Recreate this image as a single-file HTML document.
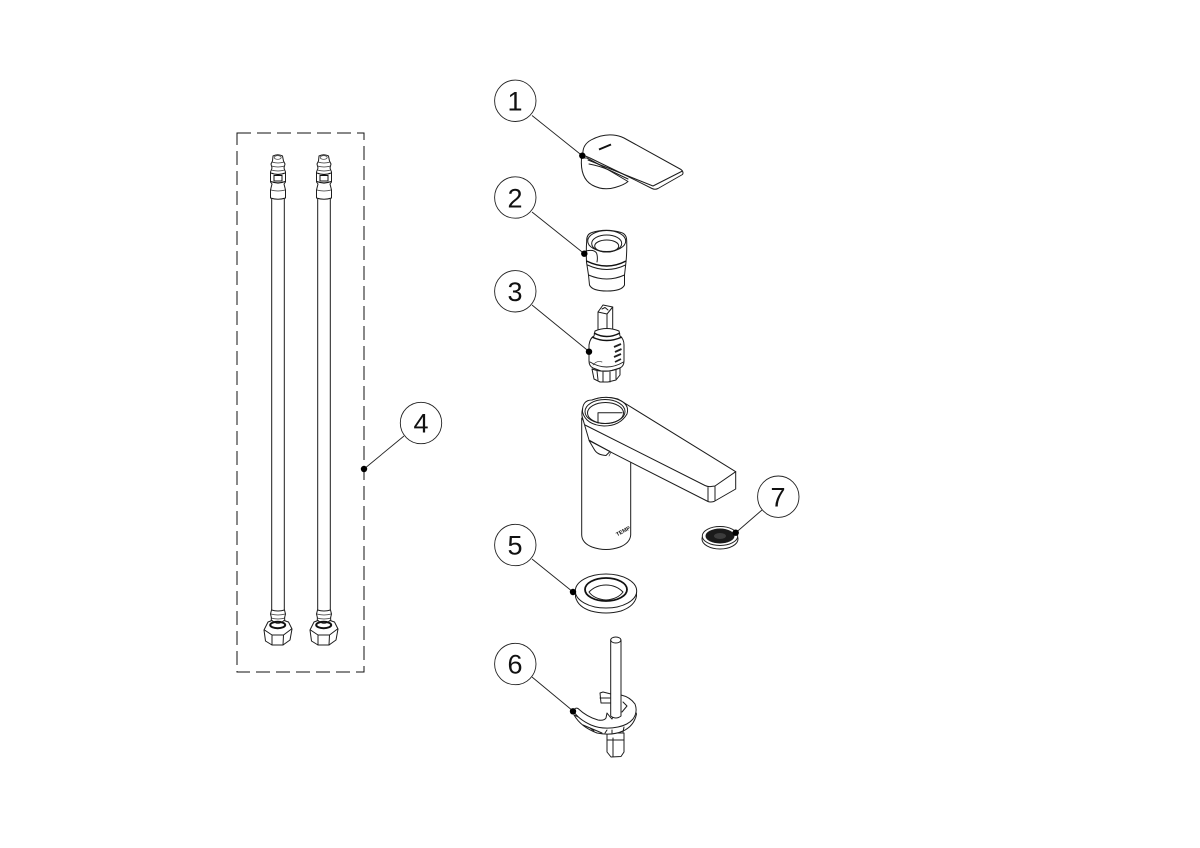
<!DOCTYPE html>
<html><head><meta charset="utf-8"><style>
html,body{margin:0;padding:0;background:#fff;width:1200px;height:848px;overflow:hidden}
svg{display:block}
text{font-family:"Liberation Sans",sans-serif;fill:#111}
.n{font-size:27px;text-anchor:middle}
.l{fill:none;stroke:#1c1c1c;stroke-width:1;stroke-linejoin:round;stroke-linecap:round}
.t{fill:none;stroke:#333;stroke-width:.7;stroke-linecap:round}
.w{fill:#fff;stroke:#1c1c1c;stroke-width:1;stroke-linejoin:round}
.c{fill:#fff;stroke:#222;stroke-width:.9}
.k{stroke:#222;stroke-width:.9}
</style></head><body>
<svg width="1200" height="848" viewBox="0 0 1200 848" xmlns="http://www.w3.org/2000/svg">
<defs>
<g id="hose">
<path class="w" d="M271.700 198V612H284.300V198Z"/>
<path class="w" d="M273 156Q277.700 153.500 282.500 156L283.500 161L285 164L284 168L285.500 172V182L284 184L285.500 190V198Q278 200.500 270.500 198V190L272 184L270.500 182V172L272 168L271 164L272.500 161Z"/>
<ellipse class="t" cx="277.700" cy="157.500" rx="3.500" ry="1.800"/>
<path class="t" d="M272 162Q278 164 284 162M271.500 166Q278 168 284.500 166M271.500 170Q278 172 284.500 170"/>
<path d="M271 173Q278 176 285 173M271 181.500Q278 184.500 285 181.500" fill="none" stroke="#111" stroke-width="1.200"/>
<path d="M274 175.500H282V181H274Z" fill="none" stroke="#111" stroke-width="1"/>
<path class="t" d="M271 190Q278 192 285 190"/>
<path class="w" d="M271.500 610Q278 612 284.500 610L285.500 614L284.500 618L285 622H271L271.500 618L270.500 614Z"/>
<path class="t" d="M271 614Q278 616 285 614M271 618Q278 620 285 618"/>
<path class="w" d="M268 622L272 620.500Q278 626 284 620.500L288.500 622L292 629L290 640L283 645L272 645L265.500 641L264 630Z"/>
<ellipse cx="277.700" cy="625" rx="7.500" ry="3.200" fill="none" stroke="#111" stroke-width="2"/>
<path class="l" d="M264.500 630L272 635H283.500L291.500 629M272 635L272 645M283.500 635L283 645"/>
</g>
</defs>

<!-- dashed box -->
<rect x="237" y="133" width="127" height="539" fill="none" stroke="#111" stroke-width="1" stroke-dasharray="14 6"/>
<use href="#hose"/>
<use href="#hose" x="46"/>

<!-- item 1: handle -->
<path class="w" d="M581.500 158Q580 178 592 185Q603 191 615 187.500Q624 185 628 181.500L600 165L587 158Z"/>
<path class="w" d="M583 155Q582 145 591 140Q602 134 613 135Q619 135.500 624 138L681 169.500Q684 172 682.500 174.500L658 188.500Q655 190 652 188.500L625 175L590 158Z"/>
<path class="l" d="M588 160L653 186L682.500 171"/>
<path class="l" d="M589 164Q600 166 609 170L628 179"/>
<path d="M599 149.500L611 144.500" stroke="#111" stroke-width="2" fill="none"/>

<!-- item 2: adapter -->
<path class="w" d="M586.700 241Q586.500 234 592 232.500Q606 228 621 232.500Q626.700 234 626.700 241Q627 252 626 262L624.500 275L624.500 285Q622 291 607 291Q592 291 589.500 285L588.500 275L586.500 262Q586 250 586.700 241Z"/>
<ellipse class="l" cx="606.700" cy="241" rx="19" ry="10.500"/>
<ellipse class="l" cx="606.700" cy="243.500" rx="15" ry="8.500"/>
<ellipse class="l" cx="606.700" cy="246" rx="12" ry="6"/>
<path d="M586.500 261Q607 271 626 261" fill="none" stroke="#111" stroke-width="1.500"/>
<path class="l" d="M587.500 265Q607 274 625.500 265M588.500 275Q607 283 624.500 275"/>
<path class="l" d="M586 251Q594 249 596.500 253Q598 257 597 262"/>

<!-- item 3: cartridge -->
<path class="w" d="M598 312L603 305L612.700 307V336H598Z"/>
<path class="l" d="M598 312L607 314L612.700 307M607 314V336M602 309L605 307.500L608 310"/>
<path class="w" d="M589 345Q590 338 594 336L595 331Q606.500 326 619 331L620 336Q624 339 624 345V361Q624 366 620 368L610 371H601L593 368Q589 366 589 361Z"/>
<path d="M594 333Q606.500 340 620 333M592 337Q606.500 344 622 337" stroke="#111" stroke-width="1.500" fill="none"/>
<path class="l" d="M590 362Q606.500 372 623.500 362"/>
<path class="w" d="M592 369L594 379L600 382L608 382L616 380L620 375V368Q606 374 592 369Z"/>
<path class="l" d="M597 371L598 380M603 372L603 382M610 372L610 382M616 370L616 379"/>
<path d="M614 347L621 344M615 352L621.500 349M614 357L621 354M615 362L621 359" stroke="#222" stroke-width="1.800" fill="none"/>
<path class="t" d="M593 365Q597 360 602 362"/>

<!-- faucet -->
<path class="w" d="M581.700 418V535Q582 543 592 547Q606 552 620 547Q630 543 630.700 535V461L600 445Z"/>
<path class="w" d="M582 416Q581 405 590 401Q603 395 618 399L735.700 471.700V489L714 501.500Q710 502.500 708 501.500L610 451.700L589 440Z"/>
<path class="l" d="M585 425L705 485.500Q708 487 711 486.500L715 486L735.700 471.700"/>
<path class="l" d="M708 487.500V501.500M715 486.500V500.500"/>
<path class="w" d="M582.500 412Q582 400 592 400Q605 395 618 399.500Q630 404 627 414Q620 426 604 426Q586 425 582.500 412Z"/>
<ellipse class="l" cx="605" cy="411.500" rx="20" ry="12"/>
<ellipse class="l" cx="605.500" cy="413" rx="18" ry="10.500"/>
<path class="l" d="M598 412.700V423M598 412.700H622"/>
<path class="l" d="M589 440.500L610 451.500L606 455.500Q597 455 594 449Z"/>
<path class="t" d="M611 452L609 456"/>
<text x="623" y="533" font-size="5.500" font-weight="700" text-anchor="middle" transform="rotate(-28 623 531)">TEMP</text>

<!-- item 7: aerator -->
<ellipse class="w" cx="720" cy="539" rx="18" ry="10"/>
<ellipse cx="720" cy="536" rx="17.700" ry="9.500" fill="#fff" stroke="#222" stroke-width="1"/>
<ellipse cx="720" cy="536" rx="14.500" ry="7.500" fill="#1a1a1a"/>
<ellipse cx="720" cy="536" rx="6" ry="3" fill="#3c3c3c"/>

<!-- item 5: ring -->
<path class="w" d="M575.500 592V597Q578 607 591 611Q606 615 621 611Q635 606 636.500 596V590H575.500Z"/>
<ellipse class="w" cx="606" cy="591" rx="30.700" ry="17"/>
<ellipse cx="606" cy="589.500" rx="21" ry="11.500" fill="#fff" stroke="#111" stroke-width="1.800"/>
<path class="l" d="M589 592Q594 599 606 600Q618 599 623 592M589 592Q596 585 606 585Q616 585 623 592"/>

<!-- item 6: bracket -->
<path class="w" d="M607 733H624V752L621 756.500L611 757L607 752Z"/>
<path class="l" d="M613 738V756.500M607 740H624"/>
<path class="w" d="M600 693L603 692L611 694V703H601Z"/>
<path class="l" d="M600 698H610"/>
<path class="w" d="M574 715Q581 727 597 733Q612 736 623 731Q634 726 636.500 714L634 708L622 720Q605 728 590 722Z"/>
<path class="l" d="M583 725L602 733M605 733L607 730M624 727L623 732M590 728L594 731M612 733V730"/>
<path class="w" d="M573.500 711Q575 707 578 708.500Q587 717 598 720Q604 721 606 718L607 713Q610 717 612 719L621 695Q630 697 635 704Q638 712 633 719Q628 725 618 727Q603 730 591 725Q578 719 573.500 711Z"/>
<path class="l" d="M623 702L627 706L622 712"/>
<path class="w" d="M610.700 640V716Q616 720 621 716V640Z"/>
<ellipse class="w" cx="615.800" cy="640" rx="5.100" ry="3"/>

<!-- callouts -->
<g class="k">
<line x1="532" y1="115.500" x2="582" y2="155.500"/>
<line x1="532" y1="212" x2="584" y2="253.500"/>
<line x1="532" y1="305" x2="589" y2="351.500"/>
<line x1="404" y1="436" x2="364" y2="469"/>
<line x1="532" y1="559" x2="573" y2="592"/>
<line x1="532" y1="677" x2="573" y2="711"/>
<line x1="762" y1="510" x2="736" y2="532.500"/>
</g>
<g fill="#000">
<circle cx="582.300" cy="155.700" r="3.200"/>
<circle cx="584.300" cy="253.700" r="3.200"/>
<circle cx="589" cy="351.700" r="3.200"/>
<circle cx="364" cy="469" r="3.200"/>
<circle cx="573" cy="592" r="3.200"/>
<circle cx="573" cy="711.300" r="3.200"/>
<circle cx="735.700" cy="532.700" r="3.200"/>
</g>
<circle class="c" cx="515.300" cy="100.800" r="20.700"/>
<circle class="c" cx="515.300" cy="197.500" r="20.700"/>
<circle class="c" cx="515.300" cy="291.300" r="20.700"/>
<circle class="c" cx="421" cy="423" r="20.700"/>
<circle class="c" cx="515.300" cy="545" r="20.700"/>
<circle class="c" cx="515.300" cy="664" r="20.700"/>
<circle class="c" cx="778.300" cy="496.700" r="20.700"/>
<text class="n" x="515" y="110.500">1</text>
<text class="n" x="515" y="207.500">2</text>
<text class="n" x="515" y="301">3</text>
<text class="n" x="421" y="432.500">4</text>
<text class="n" x="515" y="554.500">5</text>
<text class="n" x="515" y="673.500">6</text>
<text class="n" x="778" y="506.500">7</text>
</svg>
</body></html>
